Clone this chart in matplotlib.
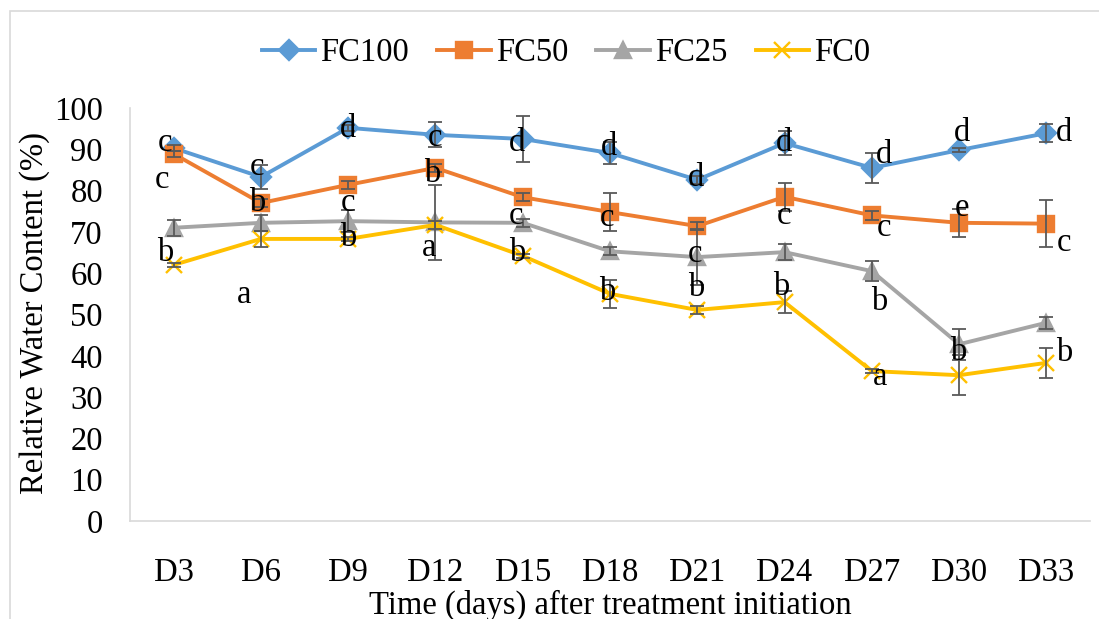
import numpy as np
import matplotlib.pyplot as plt
from matplotlib.patches import Rectangle

plt.rcParams['font.family'] = ['Liberation Serif', 'DejaVu Serif']

days = ['D3', 'D6', 'D9', 'D12', 'D15', 'D18', 'D21', 'D24', 'D27', 'D30', 'D33']
fc100 = [90.3, 83.3, 95.2, 93.5, 92.5, 89.1, 82.6, 91.5, 85.5, 89.8, 93.9]
fc100_err = [0.8, 3.0, 0.8, 3.0, 5.5, 2.7, 1.0, 3.0, 3.6, 0.5, 2.2]
fc50 = [88.9, 77.0, 81.4, 85.5, 78.4, 74.8, 71.4, 78.5, 74.0, 72.2, 72.0]
fc50_err = [0.8, 1.0, 1.0, 1.0, 1.0, 4.5, 1.0, 3.4, 1.0, 3.4, 5.7]
fc25 = [71.0, 72.2, 72.6, 72.3, 72.2, 65.3, 63.9, 65.1, 60.5, 42.8, 48.0]
fc25_err = [2.0, 2.0, 2.7, 9.0, 1.0, 1.0, 6.8, 2.0, 2.4, 3.8, 1.5]
fc0 = [62.0, 68.3, 68.3, 71.7, 64.2, 55.0, 51.1, 53.0, 36.3, 35.3, 38.3]
fc0_err = [0.5, 2.0, 0.5, 1.0, 0.5, 3.4, 1.0, 2.6, 0.5, 4.8, 3.6]

# significance letters as placed on the chart: (x in day index, y, letter)
letters = [
    (-0.10, 91.5, 'c'), (-0.13, 82.6, 'c'), (-0.10, 64.9, 'b'),
    (0.95, 85.7, 'c'), (0.96, 77.0, 'b'), (0.81, 54.7, 'a'),
    (2.00, 95.0, 'd'), (2.00, 77.0, 'c'), (2.00, 68.5, 'b'),
    (2.99, 92.7, 'c'), (2.96, 84.2, 'b'), (2.93, 66.1, 'a'),
    (3.93, 91.5, 'd'), (3.92, 74.0, 'c'), (3.94, 64.9, 'b'),
    (4.99, 90.6, 'd'), (4.97, 73.4, 'c'), (4.97, 55.4, 'b'),
    (5.98, 83.0, 'd'), (5.97, 64.6, 'c'), (5.99, 56.4, 'b'),
    (6.99, 91.5, 'd'), (6.99, 74.0, 'c'), (6.96, 56.7, 'b'),
    (8.14, 88.6, 'd'), (8.14, 71.0, 'c'), (8.09, 53.0, 'b'), (8.09, 34.9, 'a'),
    (9.03, 94.0, 'd'), (9.03, 75.8, 'e'), (8.99, 41.0, 'b'),
    (10.20, 94.0, 'd'), (10.20, 67.3, 'c'), (10.20, 40.7, 'b'),
]

W, H = 1099, 619
FS = 23.5
fig = plt.figure(figsize=(W / 100, H / 100), dpi=100)
ax = fig.add_axes([130 / W, 1 - 521 / H, (1090 - 130) / W, (521 - 108) / H])

x = np.arange(len(days))
series = [
    ('FC100', fc100, fc100_err, '#5B9BD5', 'D', 10),
    ('FC50', fc50, fc50_err, '#ED7D31', 's', 11),
    ('FC25', fc25, fc25_err, '#A5A5A5', '^', 11),
    ('FC0', fc0, fc0_err, '#FFC000', 'x', 12),
]
for name, vals, err, col, mk, ms in series:
    ax.plot(x, vals, color=col, lw=2.8, marker=mk, markersize=ms,
            markeredgecolor=col, markerfacecolor=col, markeredgewidth=1.7,
            label=name, zorder=3)
    ax.errorbar(x, vals, yerr=err, fmt='none', ecolor='#595959', elinewidth=1.3,
                capsize=5, capthick=1.3, zorder=4)

for xi, yv, s in letters:
    ax.text(xi, yv, s, fontsize=FS, ha='center', va='center', zorder=5)

ax.set_xlim(-0.5, len(days) - 0.5)
ax.set_ylim(0, 100)
ax.set_yticks(range(0, 101, 10))
ax.set_xticks(x)
ax.set_xticklabels(days)
ax.tick_params(axis='both', length=0, labelsize=FS)
ax.tick_params(axis='x', pad=26.5)
ax.tick_params(axis='y', pad=19.5)
for sp in ['top', 'right']:
    ax.spines[sp].set_visible(False)
for sp in ['left', 'bottom']:
    ax.spines[sp].set_color('#d9d9d9')
    ax.spines[sp].set_linewidth(1.2)

fig.text(35 / W, 1 - 313 / H, 'Relative Water Content (%)', rotation=90,
         ha='center', va='center', fontsize=FS)
fig.text(610 / W, 1 - 605 / H, 'Time (days) after treatment initiation',
         ha='center', va='center', fontsize=FS)

fig.legend(loc='center', bbox_to_anchor=(566 / W, 1 - 53 / H), ncol=4,
           frameon=False, fontsize=FS, handlelength=1.65, handletextpad=0.15,
           columnspacing=0.86)

fig.add_artist(Rectangle((10 / W, -0.2), 1.5, (H - 11) / H + 0.2,
                         transform=fig.transFigure, fill=False,
                         edgecolor='#d9d9d9', lw=1.2))

fig.savefig('out.png', dpi=100)
